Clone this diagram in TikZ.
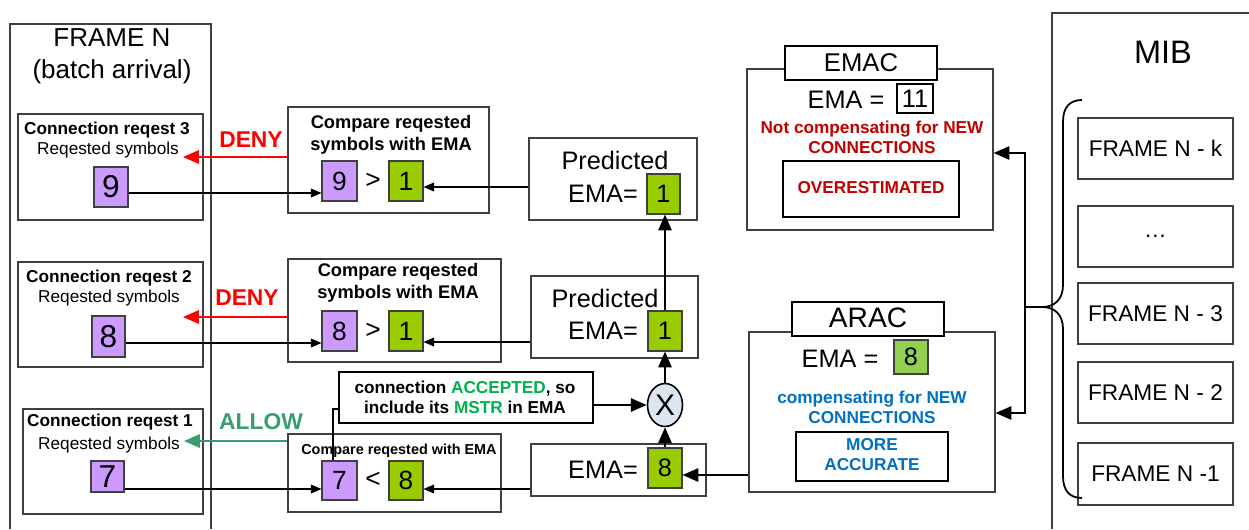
\documentclass[tikz,border=0pt]{standalone}
\usepackage{fontspec}
\setmainfont{Liberation Sans}
\usetikzlibrary{arrows.meta,fit,calc,shapes.geometric}
\definecolor{purp}{HTML}{CC99FF}
\definecolor{olv}{HTML}{99CC00}
\definecolor{lgr}{HTML}{92D050}
\definecolor{dred}{HTML}{C00000}
\definecolor{dblue}{HTML}{0070C0}
\definecolor{agreen}{HTML}{00B050}
\definecolor{allowg}{HTML}{3A9D6E}
\definecolor{edge}{HTML}{404040}
\definecolor{circf}{HTML}{DCE6F2}
\newcommand\szBig{\fontsize{14.8}{18.2}\selectfont}
\newcommand\szMed{\fontsize{9.8}{11.4}\selectfont}
\newcommand\szCmp{\fontsize{10.4}{12.5}\selectfont}
\newcommand\szSm{\fontsize{8.2}{10}\selectfont}
\newcommand\szDeny{\fontsize{13}{15}\selectfont}
\newcommand\szPred{\fontsize{14.4}{17}\selectfont}
\newcommand\szNumL{\fontsize{18}{20}\selectfont}
\newcommand\szNumC{\fontsize{15}{18}\selectfont}
\newcommand\szMIB{\fontsize{18.5}{20}\selectfont}
\newcommand\szFr{\fontsize{12.9}{15}\selectfont}
\newcommand\szTitle{\fontsize{14.6}{17}\selectfont}
\begin{document}
\begin{tikzpicture}[x=0.02cm,y=-0.02cm,
  bx/.style={draw=edge, line width=0.6pt, inner sep=0pt},
  wbx/.style={bx, fill=white},
  pbox/.style={bx, fill=purp},
  gbox/.style={bx, fill=olv},
  tx/.style={inner sep=0pt, align=center},
  arr/.style={line width=0.6pt, -{Triangle[length=6pt,width=5pt]}},
  tarr/.style={line width=1.2pt, -{Triangle[length=9pt,width=7.5pt]}},
  redarr/.style={line width=1.2pt, red, -{Triangle[length=9pt,width=7.5pt]}},
  grnarr/.style={line width=1.2pt, allowg, -{Triangle[length=9pt,width=7.5pt]}},
]
\useasboundingbox (0,0) rectangle (1249,529);
\fill[white] (0,0) rectangle (1249,529);

% ---------------- FRAME N column
\draw[edge, line width=0.6pt] (10,529) -- (10,24) -- (211,24) -- (211,529);
\node[tx, font=\szBig] (frtitle) at (112,56) {FRAME N\\(batch arrival)};

\node[bx, fit={(18,114) (203,220)}] (c3) {};
\node[tx, font=\szMed\bfseries] (c3t) at (107,130) {Connection reqest 3};
\node[tx, font=\szMed] (c3s) at (108,150) {Reqested symbols};
\node[pbox, fit={(94,167) (128,207)}, label={[font=\szNumL]center:9}] (c3n) {};

\node[bx, fit={(18,262) (203,367)}] (c2) {};
\node[tx, font=\szMed\bfseries] (c2t) at (109,278) {Connection reqest 2};
\node[tx, font=\szMed] (c2s) at (109,298) {Reqested symbols};
\node[pbox, fit={(92,316) (125,357)}, label={[font=\szNumL]center:8}] (c2n) {};

\node[bx, fit={(23,409) (203,514)}] (c1) {};
\node[tx, font=\szMed\bfseries] (c1t) at (110,422) {Connection reqest 1};
\node[tx, font=\szMed] (c1s) at (109,445) {Reqested symbols};
\node[pbox, fit={(91,461) (124,492)}, label={[font=\szNumL]center:7}] (c1n) {};

% ---------------- compare boxes
\node[bx, fit={(288,107) (489,213)}] (cmp1) {};
\node[tx, font=\szCmp\bfseries] (cmp1t) at (391,135) {Compare reqested\\symbols with EMA};
\node[pbox, fit={(322,161) (357,201)}, label={[font=\szNumC]center:9}] (cmp1p) {};
\node[tx, font=\szNumC] (cmp1o) at (373,181) {>};
\node[gbox, fit={(389,161) (423,201)}, label={[font=\szNumC]center:1}] (cmp1g) {};

\node[bx, fit={(288,259) (501,362)}] (cmp2) {};
\node[tx, font=\szCmp\bfseries] (cmp2t) at (398,283) {Compare reqested\\symbols with EMA};
\node[pbox, fit={(322,311) (357,351)}, label={[font=\szNumC]center:8}] (cmp2p) {};
\node[tx, font=\szNumC] (cmp2o) at (373,331) {>};
\node[gbox, fit={(389,311) (423,351)}, label={[font=\szNumC]center:1}] (cmp2g) {};

\node[bx, fit={(288,434) (501,512)}] (cmp3) {};
\node[tx, font=\szSm\bfseries] (cmp3t) at (399,451) {Compare reqested with EMA};
\node[pbox, fit={(322,461) (357,500)}, label={[font=\szNumC]center:7}] (cmp3p) {};
\node[tx, font=\szNumC] (cmp3o) at (373,480) {<};
\node[gbox, fit={(389,461) (423,500)}, label={[font=\szNumC]center:8}] (cmp3g) {};

% ---------------- request -> compare arrows
\draw[arr] (c3n.east |- 0,193) -- (cmp1p.west |- 0,193);
\draw[arr] (c2n.east |- 0,343) -- (cmp2p.west |- 0,343);
\draw[arr] (c1n.east |- 0,489) -- (cmp3p.west |- 0,489);

% ---------------- DENY / ALLOW
\coordinate (d1) at (183,157);
\coordinate (d2) at (183,317);
\coordinate (al) at (184,441);
\draw[redarr] (cmp1.west |- d1) -- (d1);
\draw[redarr] (cmp2.west |- d2) -- (d2);
\draw[grnarr] (cmp3.west |- al) -- (al);
\node[tx, font=\szDeny\bfseries, text=red] (deny1) at (251,140) {DENY};
\node[tx, font=\szDeny\bfseries, text=red] (deny2) at (247,298) {DENY};
\node[tx, font=\szDeny\bfseries, text=allowg] (allow) at (261,422) {ALLOW};

% ---------------- predicted boxes
\node[bx, fit={(529,138) (697,220)}] (pred1) {};
\node[tx, font=\szPred] (pred1t) at (615,160) {Predicted};
\node[tx, font=\szPred] (pred1e) at (603,194) {EMA=};
\node[gbox, fit={(647,174) (680,214)}, label={[font=\szPred]center:1}] (pred1g) {};

\node[bx, fit={(531,276) (698,358)}] (pred2) {};
\node[tx, font=\szPred] (pred2t) at (605,298) {Predicted};
\node[tx, font=\szPred] (pred2e) at (603,331) {EMA=};
\node[gbox, fit={(648,311) (682,351)}, label={[font=\szPred]center:1}] (pred2g) {};

\node[bx, fit={(531,444) (706,496)}] (ema3) {};
\node[tx, font=\szPred] (ema3e) at (603,470) {EMA=};
\node[gbox, fit={(648,448) (682,488)}, label={[font=\szPred]center:8}] (ema3g) {};

\draw[arr] (pred1.west |- 0,187) -- (cmp1g.east |- 0,187);
\draw[arr] (pred2.west |- 0,342) -- (cmp2g.east |- 0,342);
\draw[arr] (ema3.west |- 0,489) -- (cmp3g.east |- 0,489);

% ---------------- multiplier
\node[draw=black, line width=0.9pt, fill=circf, ellipse, inner sep=0pt,
      minimum width=0.70cm, minimum height=0.86cm, font=\fontsize{17}{18}\selectfont] (mul) at (665,405) {X};
\draw[tarr] (ema3g.north -| mul) -- (mul.south);
\draw[tarr] (mul.north) -- (pred2g.south -| mul);
\draw[tarr] (pred2g.north -| mul) -- (pred1g.south -| mul);

% ---------------- accepted note
\node[draw=black, line width=1.2pt, fit={(339,372) (593,423)}, inner sep=0pt] (acc) {};
\node[tx, font=\szMed\bfseries] (acct) at (465,397)
  {connection \textcolor{agreen}{ACCEPTED}, so\\include its \textcolor{agreen}{MSTR} in EMA};
\draw[tarr] (acc.east |- mul) -- (mul.west);
\draw[line width=0.9pt] (acc.west |- 0,409) -- (333,409) -- (cmp3p.north -| 333,0);

% ---------------- EMAC
\node[bx, fit={(747,69) (993,230)}] (emac) {};
\node[draw=black, line width=0.6pt, fill=white, fit={(785,46) (937,80)}, inner sep=0pt] (emact) {};
\node[tx, font=\szTitle] (emactt) at (861,63) {EMAC};
\node[tx, font=\szPred] (emace) at (846,100) {EMA =};
\node[draw=black, line width=0.6pt, fit={(897,84) (933,113)}, inner sep=0pt, label={[font=\szPred]center:11}] (emacv) {};
\node[tx, font=\szMed\bfseries, text=dred] (emacn) at (872,137) {Not compensating for NEW\\CONNECTIONS};
\node[draw=black, line width=0.6pt, fit={(783,161) (959,217)}, inner sep=0pt] (over) {};
\node[tx, font=\szMed\bfseries, text=dred] (overt) at (871,188) {OVERESTIMATED};

% ---------------- ARAC
\node[bx, fit={(749,332) (995,492)}] (arac) {};
\node[draw=black, line width=0.6pt, fill=white, fit={(792,302) (944,336)}, inner sep=0pt] (aract) {};
\node[tx, font=\fontsize{16}{18}\selectfont] (aractt) at (868,318) {ARAC};
\node[tx, font=\szPred] (arace) at (840,359) {EMA =};
\node[bx, fill=lgr, fit={(894,340) (928,374)}, label={[font=\szPred]center:8}] (aracv) {};
\node[tx, font=\szMed\bfseries, text=dblue] (aracn) at (872,407) {compensating for NEW\\CONNECTIONS};
\node[draw=black, line width=0.6pt, fit={(796,432) (948,481)}, inner sep=0pt] (more) {};
\node[tx, font=\szMed\bfseries, text=dblue] (moret) at (872,455) {MORE\\ACCURATE};

\draw[tarr] (arac.west |- 0,475) -- (ema3g.east |- 0,475);

% ---------------- MIB
\draw[edge, line width=0.6pt] (1052,529) -- (1052,13) -- (1249,13);
\node[tx, font=\szMIB] (mib) at (1163,52) {MIB};
\node[bx, fit={(1078,118) (1233,179)}, label={[font=\szFr]center:FRAME N - k}] (fk) {};
\node[bx, fit={(1078,206) (1233,267)}, label={[font=\szFr]center:\dots}] (fdots) {};
\node[bx, fit={(1078,283) (1233,344)}, label={[font=\szFr]center:FRAME N - 3}] (f3) {};
\node[bx, fit={(1078,362) (1233,423)}, label={[font=\szFr]center:FRAME N - 2}] (f2) {};
\node[bx, fit={(1078,443) (1233,505)}, label={[font=\szFr]center:FRAME N -1}] (f1) {};

% brace
\coordinate (bt) at (1042,307);
\draw[line width=1pt] (1082,100) .. controls (1069,100) and (1063,108) .. (1063,122)
  -- (1063,285) .. controls (1063,299) and (1055,307) .. (bt)
  .. controls (1055,307) and (1063,315) .. (1063,329)
  -- (1063,476) .. controls (1063,490) and (1069,498) .. (1082,498);
\coordinate (vx) at (1025,307);
\draw[line width=1.2pt] (bt) -- (vx);
\draw[tarr] (vx) |- (emac.east |- 0,153);
\draw[tarr] (vx) |- (arac.east |- 0,413);
\end{tikzpicture}
\end{document}
